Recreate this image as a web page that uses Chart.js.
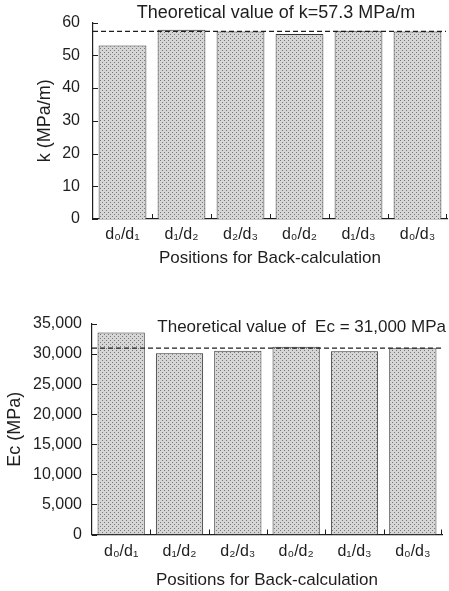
<!DOCTYPE html>
<html>
<head>
<meta charset="utf-8">
<script src="https://cdn.jsdelivr.net/npm/chart.js@4"></script>
<style>
  body { margin: 0; background: #fff; width: 449px; height: 591px; position: relative; overflow: hidden; }
  .box { position: absolute; left: 0; width: 449px; }
</style>
</head>
<body>
<div class="box" style="top:0"><canvas id="kChart" width="449" height="272"></canvas></div>
<div class="box" style="top:298px"><canvas id="ecChart" width="449" height="293"></canvas></div>
<script>
// Data
const positions = ['d\u2080/d\u2081', 'd\u2081/d\u2082', 'd\u2082/d\u2083', 'd\u2080/d\u2082', 'd\u2081/d\u2083', 'd\u2080/d\u2083'];
const kValues = [53.0, 57.8, 57.3, 56.5, 57.5, 57.3];
const kTheory = 57.3;
const ecValues = [33600, 30150, 30550, 31200, 30450, 30950];
const ecTheory = 31000;

const FONT = "'Liberation Sans', Arial, Helvetica, sans-serif";
const INK = '#1e1e1e';
Chart.defaults.font.family = FONT;
Chart.defaults.color = INK;

// stippled gray fill like the printed figure
function stipple(ctx) {
  const c = document.createElement('canvas');
  c.width = 4; c.height = 4;
  const g = c.getContext('2d');
  g.fillStyle = '#d6d6d6';
  g.fillRect(0, 0, 4, 4);
  g.fillStyle = '#777';
  g.fillRect(0, 0, 1, 1);
  g.fillRect(2, 2, 1, 1);
  return ctx.createPattern(c, 'repeat');
}

// dashed theoretical line, its label and the small inward ticks
const refLine = {
  id: 'refLine',
  afterDatasetsDraw(chart, args, opts) {
    const { ctx, chartArea, scales: { y } } = chart;
    const py = y.getPixelForValue(opts.value);
    ctx.save();
    ctx.setLineDash([5, 3]);
    ctx.strokeStyle = INK;
    ctx.lineWidth = 1.3;
    ctx.beginPath();
    ctx.moveTo(chartArea.left, py);
    ctx.lineTo(chartArea.right - 1, py);
    ctx.stroke();
    ctx.restore();
  },
  afterDraw(chart, args, opts) {
    const { ctx, chartArea, scales: { x, y } } = chart;
    ctx.save();
    ctx.strokeStyle = INK;
    ctx.lineWidth = 1;
    ctx.beginPath();
    y.ticks.forEach((t, i) => {
      const py = Math.round(y.getPixelForTick(i)) + 0.5;
      ctx.moveTo(chartArea.left, py);
      ctx.lineTo(chartArea.left + 5, py);
    });
    for (let i = 1; i <= positions.length; i++) {
      const px = i < positions.length
        ? (x.getPixelForValue(i - 1) + x.getPixelForValue(i)) / 2
        : chartArea.right - 1;
      const rx = Math.round(px) + 0.5;
      ctx.moveTo(rx, chartArea.bottom);
      ctx.lineTo(rx, chartArea.bottom - 5);
    }
    ctx.stroke();
    ctx.font = opts.size + 'px ' + FONT;
    ctx.fillStyle = INK;
    ctx.textAlign = opts.align;
    ctx.textBaseline = 'middle';
    const tx = opts.align === 'right' ? chartArea.right + opts.dx : chartArea.left + opts.dx;
    ctx.fillText(opts.label, tx, chartArea.top + opts.dy);
    ctx.restore();
  }
};

function makeChart(id, values, yOpts, geo) {
  const ctx = document.getElementById(id).getContext('2d');
  return new Chart(ctx, {
    type: 'bar',
    data: {
      labels: positions,
      datasets: [{
        data: values,
        backgroundColor: stipple(ctx),
        borderColor: '#333',
        borderWidth: 1,
        categoryPercentage: 1,
        barPercentage: 0.81
      }]
    },
    plugins: [refLine],
    options: {
      responsive: false,
      animation: false,
      events: [],
      layout: { padding: { top: geo.top, right: geo.right, left: 0, bottom: 0 } },
      plugins: {
        legend: { display: false },
        tooltip: { enabled: false },
        refLine: yOpts.ref
      },
      scales: {
        x: {
          grid: { display: false, drawTicks: false },
          border: { color: INK, width: 1.2 },
          ticks: { font: { size: 16 }, padding: geo.xPad, color: INK, maxRotation: 0 },
          title: { display: true, text: 'Positions for Back-calculation', font: { size: 17 }, color: INK, padding: { top: 0, bottom: geo.xTitlePad } },
          afterFit: s => { s.height = geo.xHeight; }
        },
        y: {
          min: 0,
          max: yOpts.max,
          grid: { display: false, drawTicks: false },
          border: { color: INK, width: 1.2 },
          ticks: { stepSize: yOpts.step, font: { size: 16 }, padding: geo.yPad, color: INK },
          title: { display: true, text: yOpts.title, font: { size: 18 }, color: INK, padding: { top: geo.yTitlePad, bottom: 0 } },
          afterFit: s => { s.width = geo.yWidth; }
        }
      }
    }
  });
}

makeChart('kChart', kValues, {
  max: 60, step: 10, title: 'k (MPa/m)',
  ref: { value: kTheory, label: 'Theoretical value of k=57.3 MPa/m', align: 'center', dx: 183, dy: -10, size: 18 }
}, { top: 22.5, right: 2, yWidth: 93, xHeight: 53, xPad: 6, xTitlePad: 3.8, yPad: 13, yTitlePad: 34 });

makeChart('ecChart', ecValues, {
  max: 35000, step: 5000, title: 'Ec (MPa)',
  ref: { value: ecTheory, label: 'Theoretical value of  Ec = 31,000 MPa', align: 'right', dx: 4, dy: 3, size: 17 }
}, { top: 26, right: 7, yWidth: 92, xHeight: 56.5, xPad: 7, xTitlePad: 0.8, yPad: 10, yTitlePad: 4.2 });
</script>
</body>
</html>
